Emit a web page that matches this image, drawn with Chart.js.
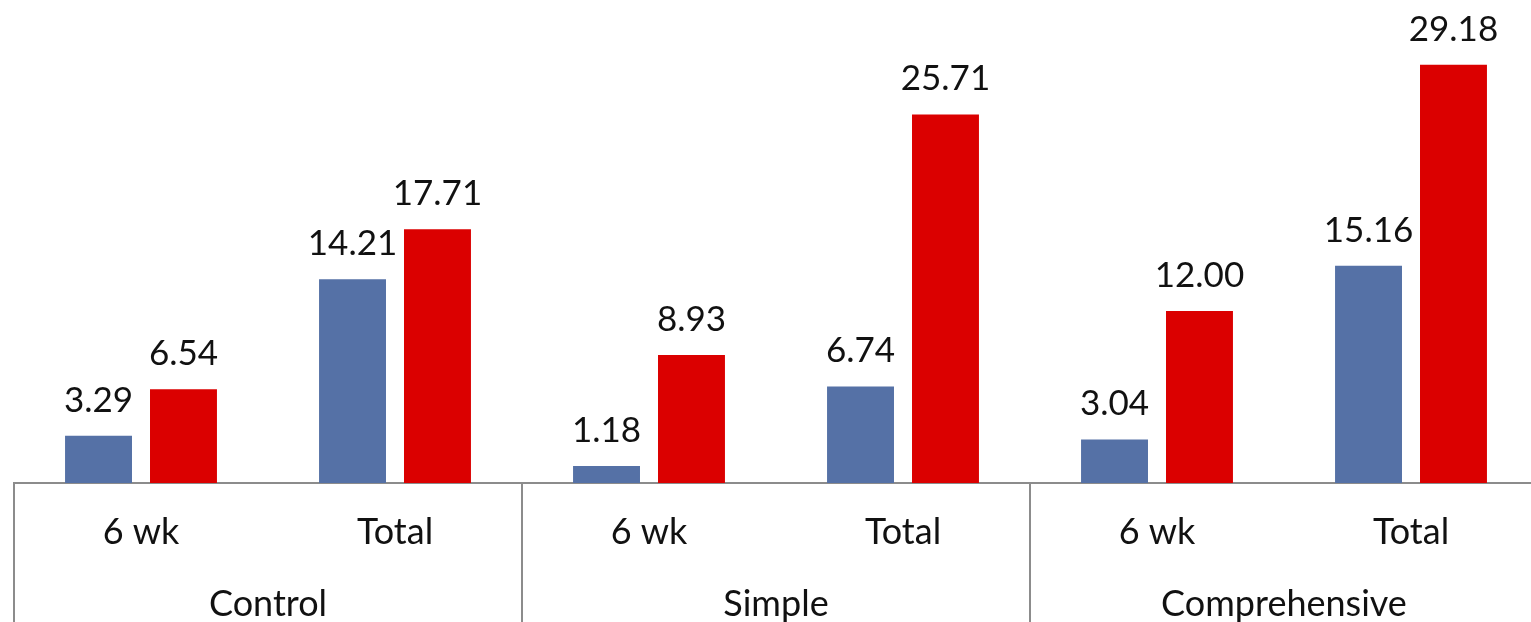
<!DOCTYPE html>
<html>
<head>
<meta charset="utf-8">
<script src="https://cdn.jsdelivr.net/npm/chart.js@4"></script>
<style>
  html, body { margin: 0; padding: 0; background: #fff; overflow: hidden; }
</style>
</head>
<body>
<canvas id="grafico" width="1538" height="622"></canvas>
<script>
// dados do gráfico
const categorias = ['6 wk', 'Total', '6 wk', 'Total', '6 wk', 'Total'];
const grupos = ['Control', 'Simple', 'Comprehensive'];
const serieAzul = [3.29, 14.21, 1.18, 6.74, 3.04, 15.16];
const serieVermelha = [6.54, 17.71, 8.93, 25.71, 12.00, 29.18];

const fonte = 'Lato, "Open Sans", sans-serif';

// rótulos de valor em cima das barras
const rotulosValor = {
    id: 'rotulosValor',
    afterDatasetsDraw(chart) {
        const ctx = chart.ctx;
        ctx.save();
        ctx.font = '35px ' + fonte;
        ctx.fillStyle = '#111';
        ctx.textAlign = 'center';
        ctx.textBaseline = 'bottom';
        chart.data.datasets.forEach((ds, i) => {
            chart.getDatasetMeta(i).data.forEach((bar, j) => {
                ctx.fillText(ds.data[j].toFixed(2), bar.x, bar.y - 18);
            });
        });
        ctx.restore();
    }
};

// separadores e nomes dos grupos abaixo do eixo
const gruposEixo = {
    id: 'gruposEixo',
    afterDraw(chart) {
        const ctx = chart.ctx;
        const x = chart.scales.x;
        const w = (x.right - x.left) / categorias.length;
        const porGrupo = categorias.length / grupos.length;
        ctx.save();
        ctx.strokeStyle = '#8c8c8c';
        ctx.lineWidth = 2;
        for (let g = 0; g <= grupos.length; g++) {
            const px = Math.round(x.left + g * porGrupo * w);
            ctx.beginPath();
            ctx.moveTo(px, x.top);
            ctx.lineTo(px, chart.height);
            ctx.stroke();
        }
        ctx.font = '36px ' + fonte;
        ctx.fillStyle = '#111';
        ctx.textAlign = 'center';
        ctx.textBaseline = 'middle';
        grupos.forEach((nome, g) => {
            const cx = x.left + (g + 0.5) * porGrupo * w;
            ctx.fillText(nome, cx, x.top + 121);
        });
        ctx.restore();
    }
};

new Chart(document.getElementById('grafico'), {
    type: 'bar',
    data: {
        labels: categorias,
        datasets: [{
            label: 'Azul',
            data: serieAzul,
            backgroundColor: '#5571a6',
            categoryPercentage: 0.669,
            barPercentage: 0.788
        }, {
            label: 'Vermelho',
            data: serieVermelha,
            backgroundColor: '#db0000',
            categoryPercentage: 0.669,
            barPercentage: 0.788
        }]
    },
    options: {
        responsive: false,
        animation: false,
        devicePixelRatio: 1,
        layout: { padding: { left: 14, right: 0, top: 0, bottom: 0 } },
        plugins: {
            legend: { display: false },
            tooltip: { enabled: false }
        },
        scales: {
            x: {
                grid: { display: false, drawTicks: false },
                border: { display: true, color: '#8c8c8c', width: 2 },
                ticks: {
                    color: '#111',
                    font: { family: fonte, size: 36 },
                    padding: 28,
                    maxRotation: 0
                },
                afterFit: s => { s.height = 139; }
            },
            y: {
                display: false,
                min: 0,
                max: 33.7
            }
        }
    },
    plugins: [rotulosValor, gruposEixo]
});
</script>
</body>
</html>
